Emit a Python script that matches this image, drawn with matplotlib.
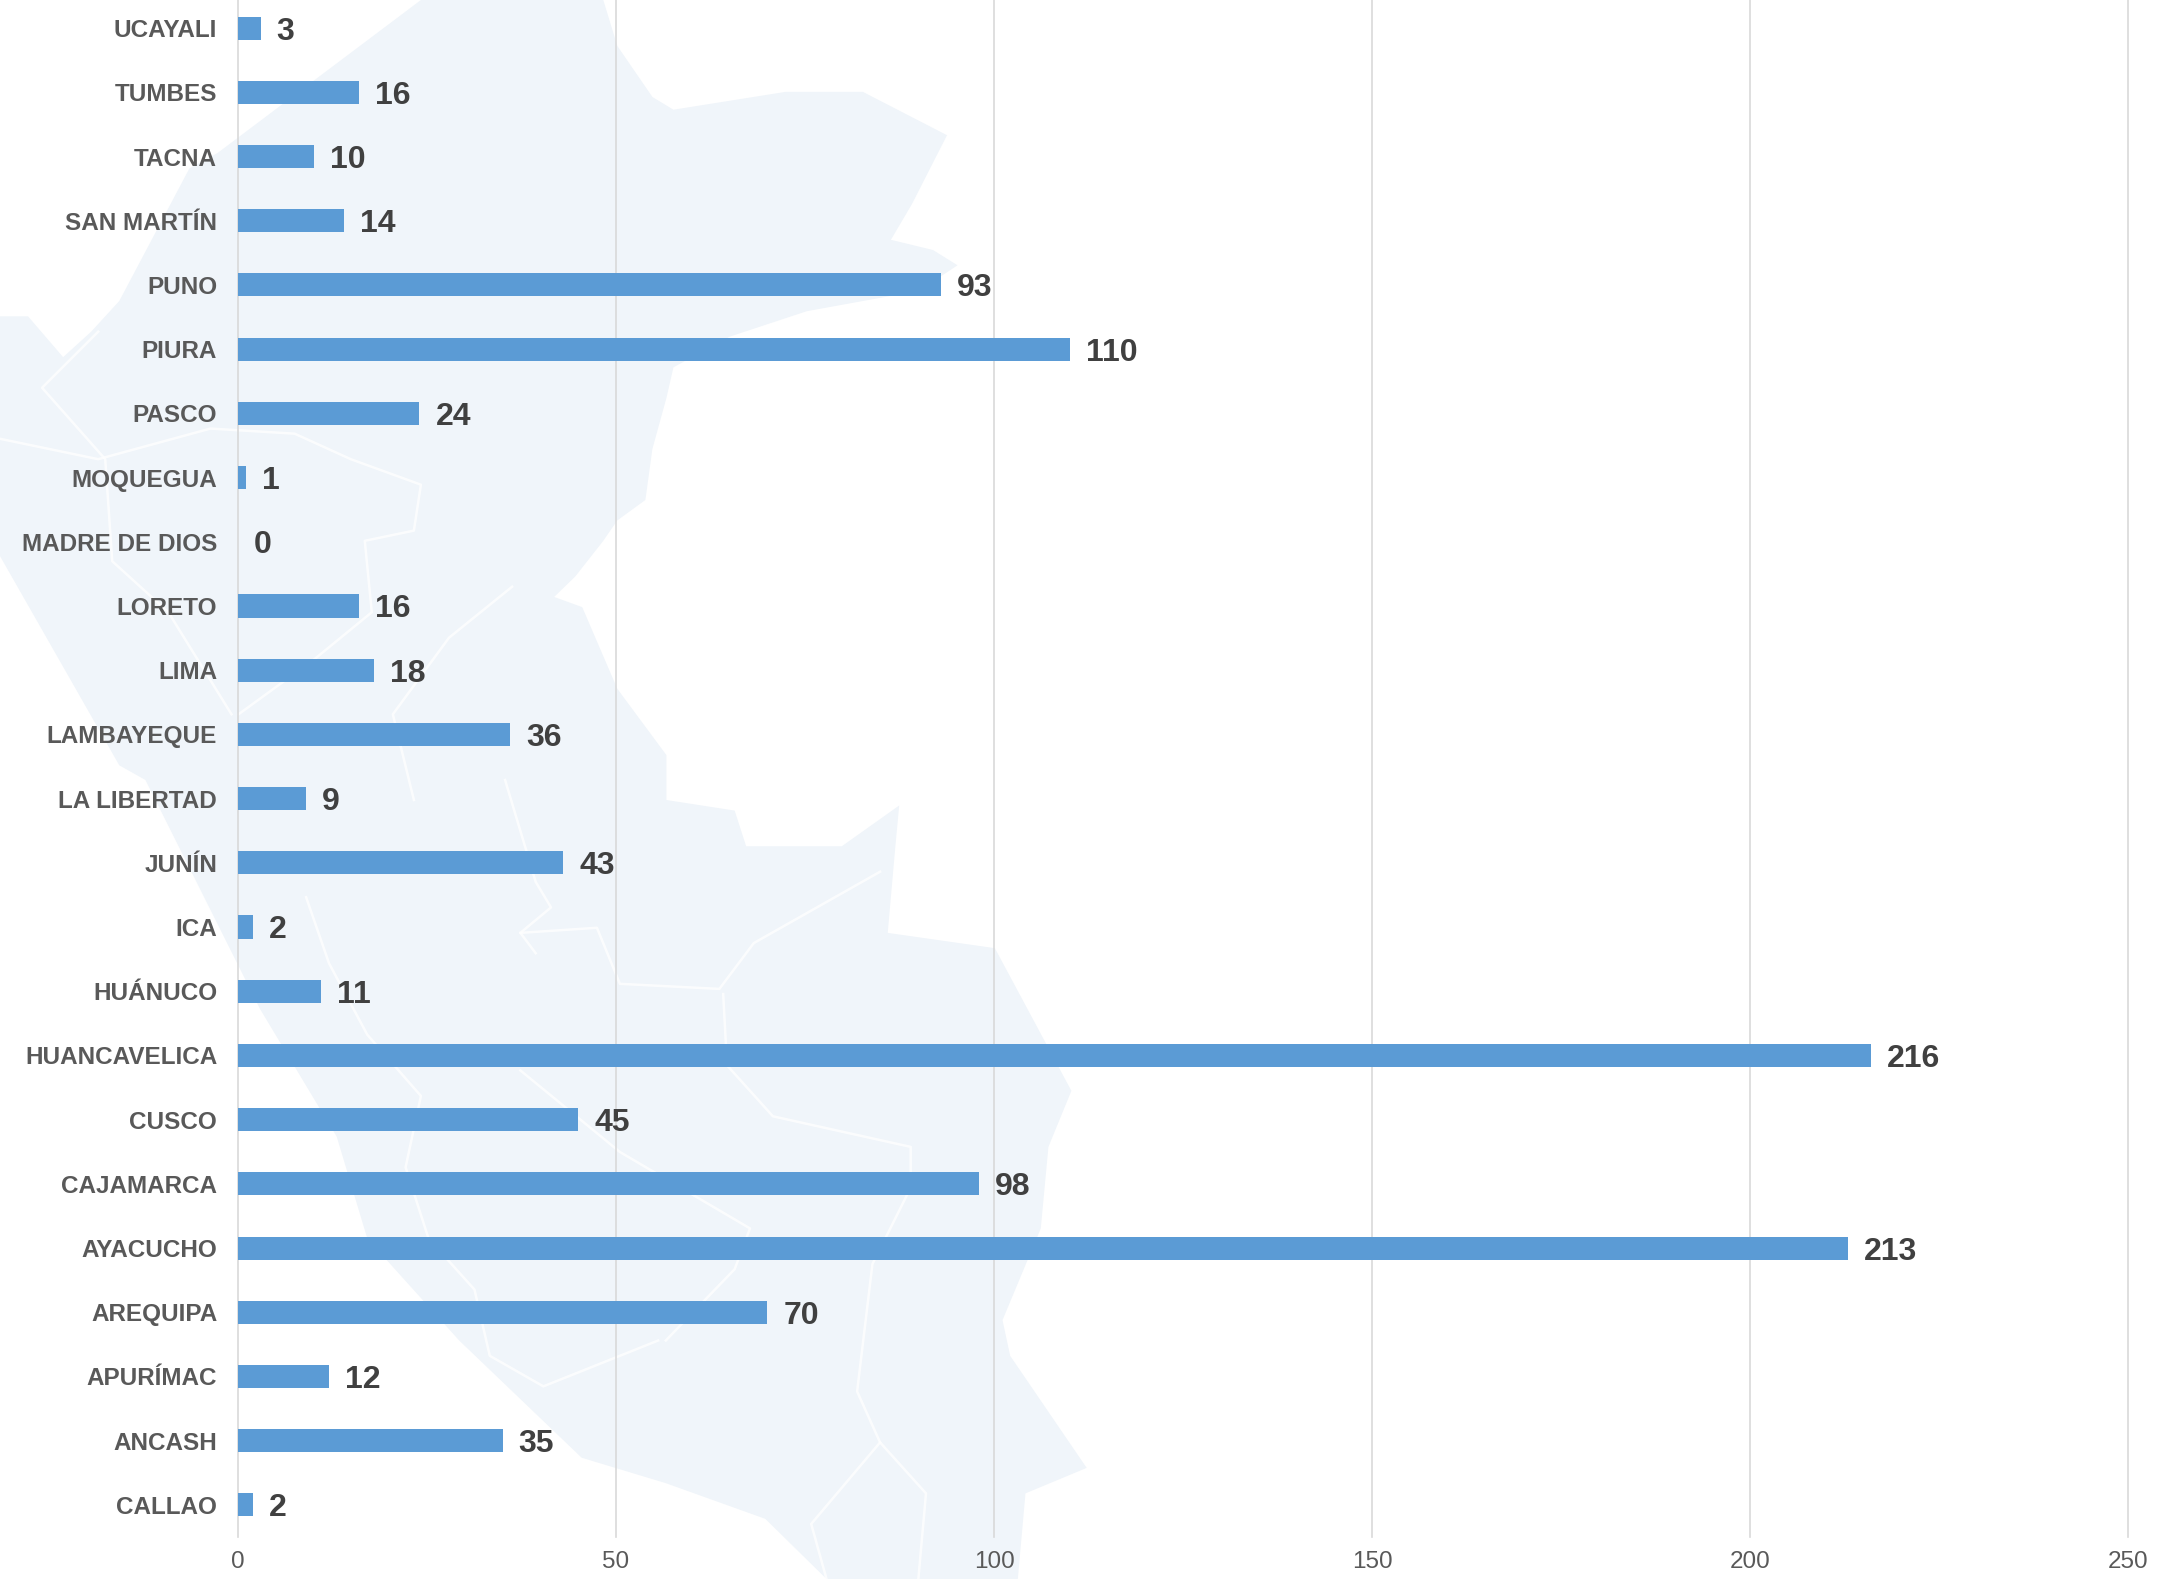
import matplotlib
matplotlib.use("Agg")
import matplotlib.pyplot as plt
from matplotlib.patches import Polygon

regions = ["CALLAO", "ANCASH", "APURÍMAC", "AREQUIPA", "AYACUCHO", "CAJAMARCA", "CUSCO",
           "HUANCAVELICA", "HUÁNUCO", "ICA", "JUNÍN", "LA LIBERTAD", "LAMBAYEQUE", "LIMA",
           "LORETO", "MADRE DE DIOS", "MOQUEGUA", "PASCO", "PIURA", "PUNO", "SAN MARTÍN",
           "TACNA", "TUMBES", "UCAYALI"]
values = [2, 35, 12, 70, 213, 98, 45, 216, 11, 2, 43, 9, 36, 18, 16, 0, 1, 24, 110, 93, 14, 10, 16, 3]
x_ticks = [0, 50, 100, 150, 200, 250]

W, H = 2183, 1579
plt.rcParams['font.family'] = ['Liberation Sans', 'DejaVu Sans']
fig = plt.figure(figsize=(W / 100, H / 100), dpi=100, facecolor='white')

# faint background map (decoration), in picture pixels
bg = fig.add_axes([0, 0, 1, 1], zorder=0)
bg.set_xlim(0, W); bg.set_ylim(H, 0); bg.axis('off')
MAP = '#F0F5FA'
def a(pts):
    return [(x / 1.4255, y / 1.96) for x, y in pts]
def b(pts):
    return [(x / 1.3067, y / 1.9625 + 780) for x, y in pts]
z1 = [(600,0),(860,0),(880,90),(930,190),(960,215),(1120,180),(1230,180),(1350,265),(1300,400),(1270,470),
      (1330,490),(1365,520),(1310,570),(1150,610),(1040,660),(960,720),(950,780),(930,880),(920,980),(880,1020),
      (860,1060),(820,1130),(790,1170),(830,1190),(880,1350),(950,1480),(950,1568)]
z2 = [(960,60),(975,130),(1100,130),(1175,50),(1170,130),(1160,300),(1300,330),(1400,610),(1370,720),(1360,880),
      (1310,1060),(1320,1130),(1420,1350),(1340,1400),(1330,1568),(1080,1568),(1000,1450),(870,1380),(760,1330),
      (600,1100),(480,900),(440,700),(340,450),(190,0)]
z3 = [(170,1500),(0,1090),(0,620),(40,620),(90,700),(130,650),(170,590),(270,330),(310,300)]
bg.add_patch(Polygon(a(z1) + b(z2) + a(z3), closed=True, fc=MAP, ec='none'))
borders_a = [
    [(0,860),(140,900),(300,840),(420,850),(500,900),(600,950),(590,1040),(520,1060),(530,1200),(450,1290),(340,1400)],
    [(140,650),(60,760),(150,900),(160,1100),(240,1200),(330,1400)],
    [(730,1150),(640,1250),(560,1400),(590,1568)],
]
for l in borders_a:
    bg.plot(*zip(*a(l)), color='white', lw=1.8, alpha=.75)
borders_b = [
    [(400,230),(430,360),(480,500),(550,620),(530,760),(560,900),(620,1000),(640,1130),(710,1190),(860,1100)],
    [(680,300),(780,290),(810,400),(940,410),(985,320),(1150,180)],
    [(945,420),(950,560),(1010,660),(1190,720),(1190,800),(1140,950),(1120,1200),(1150,1300),(1210,1400),(1200,1568)],
    [(660,0),(700,200),(720,250),(680,300),(700,340)],
    [(680,570),(810,730),(980,880),(960,960),(870,1100)],
    [(1150,1300),(1060,1460),(1080,1568)],
]
for l in borders_b:
    bg.plot(*zip(*b(l)), color='white', lw=1.8, alpha=.75)

# chart
x0, x1 = 238, 2128
ytop, ybot = -4, 1537
ax = fig.add_axes([x0 / W, 1 - ybot / H, (x1 - x0) / W, (ybot - ytop) / H], zorder=1)
ax.patch.set_alpha(0)
pos = list(range(len(regions)))
ax.barh(pos, values, height=0.36, color='#5B9BD5', zorder=3)
ax.set_xlim(0, 250)
ax.set_ylim(-0.5, 23.5)
ax.set_yticks(pos, regions, fontsize=17.5, fontweight='bold', color='#595959')
ax.set_xticks(x_ticks, [str(t) for t in x_ticks], fontsize=17.5, color='#595959')
ax.tick_params(axis='y', length=0, pad=15)
ax.tick_params(axis='x', length=0, pad=10)
ax.xaxis.grid(True, color='#D9D9D9', lw=1.2, zorder=1, clip_on=False)
ax.set_axisbelow(True)
for s in ax.spines.values():
    s.set_visible(False)
for p, v in zip(pos, values):
    ax.annotate(str(v), (v, p), xytext=(11.5, -2.5), textcoords='offset points', va='center', ha='left',
                fontsize=23, fontweight='bold', color='#404040', zorder=4)
fig.savefig('out.png', dpi=100, facecolor='white')
